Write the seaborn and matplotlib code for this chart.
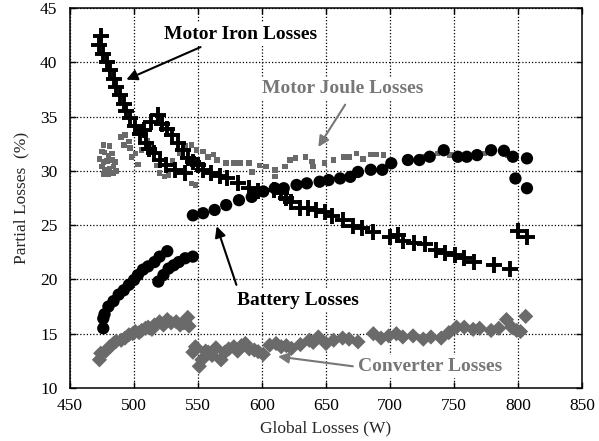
import matplotlib
matplotlib.use("Agg")
import matplotlib.pyplot as plt
import seaborn as sns

# ---- data: partial losses (%) versus global losses (W) ----
iron_x = [474, 473, 476, 479, 481, 484, 486, 489, 492, 494, 497, 501, 505, 509, 512,
          516, 520, 525, 532, 540,
          508, 513, 519, 522, 526, 530, 534, 538, 542, 546, 550,
          554, 560, 567, 573, 581, 590, 597, 609, 615, 619, 623, 630, 636, 642, 649,
          655, 663, 671, 678, 687, 700, 706, 710, 719, 727, 736, 743, 751, 758, 766,
          781, 794, 800, 807]
iron_y = [42.4, 41.6, 40.8, 40.0, 39.3, 38.5, 37.7, 37.0, 36.2, 35.5, 34.9, 34.1, 33.4, 32.6, 32.0,
          31.6, 31.0, 30.5, 30.1, 29.8,
          33.8, 34.5, 35.1, 34.3, 33.9, 33.3, 32.6, 31.9, 31.2, 30.8, 30.5,
          30.1, 29.8, 29.5, 29.3, 28.9, 28.4, 28.1, 28.2, 28.0, 27.5, 27.1, 26.6, 26.6, 26.4, 26.2,
          25.8, 25.5, 24.9, 24.7, 24.4, 23.9, 24.1, 23.5, 23.4, 23.3, 22.7, 22.4, 22.25, 22.0, 21.6,
          21.3, 21.0, 24.5, 23.9]

joule_x = [476, 481, 475, 477, 480, 483, 473, 476, 479, 483, 485, 475, 477, 481, 484,
           476, 480, 484, 486, 490, 493, 492, 496, 497, 498, 501, 503, 506, 510, 512,
           516, 518, 520, 524, 527, 530, 536, 540, 545, 548, 545,
           549, 554, 558, 562, 565, 572, 578, 583, 590, 592, 598, 603, 610, 610, 618,
           622, 626, 634, 639, 640, 649, 656, 664, 668, 674, 679, 685, 689, 695,
           727, 737, 747, 774, 792]
joule_y = [32.4, 32.3, 31.8, 31.7, 31.4, 31.6, 31.1, 30.8, 30.9, 31.0, 30.8, 30.4, 30.1, 30.2, 30.4,
           29.7, 29.7, 29.8, 30.0, 33.1, 33.3, 32.4, 32.7, 32.1, 31.3, 31.6, 30.6, 31.9, 32.8, 32.1,
           31.7, 30.5, 29.8, 29.5, 29.6, 30.9, 31.6, 32.3, 32.4, 28.7, 28.85,
           31.9, 31.8, 31.3, 31.5, 31.0, 30.7, 30.7, 30.7, 30.7, 29.9, 30.5, 30.4, 30.1, 29.5, 30.4,
           31.0, 31.2, 31.3, 30.85, 30.4, 30.7, 31.0, 31.3, 31.3, 31.6, 31.1, 31.5, 31.5, 31.45,
           31.3, 31.6, 31.45, 31.6, 31.45]

battery_x = [476, 476, 477, 480, 484, 488, 492, 496, 500, 503, 507, 511, 516, 520, 526,
             519, 523, 527, 531, 535, 540, 546,
             546, 554, 563, 572, 582, 592, 601, 610, 617, 627, 635, 645, 652, 661, 669,
             675, 685, 694, 701, 714, 723, 731, 742, 753, 760, 768, 779, 789, 796, 807,
             798, 807]
battery_y = [15.5, 16.4, 16.8, 17.5, 18.0, 18.6, 19.0, 19.5, 19.95, 20.4, 20.9, 21.2, 21.6, 22.1, 22.6,
             19.8, 20.4, 21.0, 21.3, 21.6, 21.95, 22.1,
             25.9, 26.1, 26.4, 26.85, 27.3, 27.6, 28.1, 28.4, 28.4, 28.7, 28.85, 29.0, 29.15, 29.3, 29.45,
             29.9, 30.1, 30.1, 30.7, 31.0, 31.0, 31.3, 31.9, 31.3, 31.3, 31.45, 31.9, 31.85, 31.3, 31.15,
             29.3, 28.4]

conv_x = [473, 474, 478, 481, 484, 486, 490, 493, 496, 499, 501, 504, 506, 509, 511,
          514, 516, 520, 523, 526, 529, 533, 536, 539, 542, 543,
          546, 548, 551, 553, 556, 558, 561, 564, 568, 571, 574, 578, 581, 584, 587,
          590, 594, 597, 601, 606, 611, 615, 619, 623, 630, 637, 640, 644, 650, 656,
          663, 668, 675, 687, 693, 699, 705, 710, 718, 726, 732, 740, 746, 752, 758,
          765, 770, 779, 785, 791, 795, 799, 802, 806]
conv_y = [12.6, 13.2, 13.4, 13.8, 14.1, 14.3, 14.4, 14.6, 14.9, 15.0, 15.2, 15.1, 15.3, 15.5, 15.6,
          15.4, 15.8, 16.1, 15.8, 16.3, 16.0, 16.1, 15.8, 16.0, 16.5, 15.7,
          13.3, 13.8, 12.0, 12.6, 13.4, 13.3, 13.0, 13.7, 12.6, 13.3, 13.6, 13.8, 13.4, 13.9, 14.1,
          13.6, 13.5, 13.35, 13.1, 13.95, 14.1, 13.8, 13.9, 13.65, 14.0, 14.4, 14.2, 14.7, 14.1, 14.4,
          14.6, 14.5, 14.25, 15.0, 14.6, 14.8, 15.0, 14.7, 14.8, 14.5, 14.7, 14.6, 15.1, 15.6, 15.6,
          15.4, 15.5, 15.3, 15.5, 16.3, 15.6, 15.3, 15.2, 16.6]

x_ticks = [450, 500, 550, 600, 650, 700, 750, 800, 850]
y_ticks = [10, 15, 20, 25, 30, 35, 40, 45]

sns.set_theme(style="white")
plt.rcParams["font.family"] = ["Liberation Serif", "DejaVu Serif"]

GRAY = "#6a6a6a"
TEXT_GRAY = "#777777"

fig = plt.figure(figsize=(5.99, 4.41), dpi=100)
ax = fig.add_axes([70 / 599, 1 - 388 / 441, 512 / 599, 380 / 441])

sns.scatterplot(x=joule_x, y=joule_y, marker="s", s=16, color=GRAY,
                edgecolor="none", linewidth=0, ax=ax, zorder=3)
sns.scatterplot(x=conv_x, y=conv_y, marker="D", s=60, color=GRAY,
                edgecolor="none", linewidth=0, ax=ax, zorder=3)
sns.scatterplot(x=battery_x, y=battery_y, marker="o", s=78, color="black",
                edgecolor="none", linewidth=0, ax=ax, zorder=4)
ax.scatter(iron_x, iron_y, marker="+", s=140, color="black", linewidths=2.8, zorder=5)

ax.set_xlim(450, 850)
ax.set_ylim(10, 45)
ax.set_xticks(x_ticks)
ax.set_yticks(y_ticks)
ax.tick_params(direction="in", length=4, width=1, labelsize=12.5, colors="black",
               top=True, right=True, bottom=True, left=True)
ax.tick_params(axis="x", pad=7)
ax.tick_params(axis="y", pad=9)
ax.set_xlabel("Global Losses (W)", fontsize=12.5, labelpad=5)
ax.set_ylabel("Partial Losses  (%)", fontsize=12.5, labelpad=8)
ax.grid(True, color="black", linestyle=(0, (1, 1.6)), linewidth=0.9)
ax.set_axisbelow(True)
for sp in ax.spines.values():
    sp.set_color("black")
    sp.set_linewidth(1.1)

arrow_k = dict(arrowstyle="-|>", color="black", lw=1.5, mutation_scale=16,
               shrinkA=0, shrinkB=0)
arrow_g = dict(arrowstyle="-|>", color=TEXT_GRAY, lw=1.5, mutation_scale=16,
               shrinkA=0, shrinkB=0)

# series labels sit on a white box so the grid does not run through them
label_font = dict(fontsize=14, fontweight="bold", ha="center", va="center", zorder=6,
                  bbox=dict(boxstyle="square,pad=0.15", facecolor="white", edgecolor="none"))

ax.text(583, 42.6, "Motor Iron Losses", color="black", **label_font)
ax.annotate("", xy=(494, 38.4), xytext=(552, 41.4), arrowprops=arrow_k)

ax.text(663, 37.6, "Motor Joule Losses", color=TEXT_GRAY, **label_font)
ax.annotate("", xy=(644, 32.2), xytext=(665, 36.1), arrowprops=arrow_g)

ax.text(628, 18.1, "Battery Losses", color="black", **label_font)
ax.annotate("", xy=(564.6, 24.9), xytext=(580, 19.5), arrowprops=arrow_k)

ax.text(731, 12.0, "Converter Losses", color=TEXT_GRAY, **label_font)
ax.annotate("", xy=(612.5, 12.9), xytext=(671, 12.0), arrowprops=arrow_g)

fig.savefig("out.png", dpi=100)
